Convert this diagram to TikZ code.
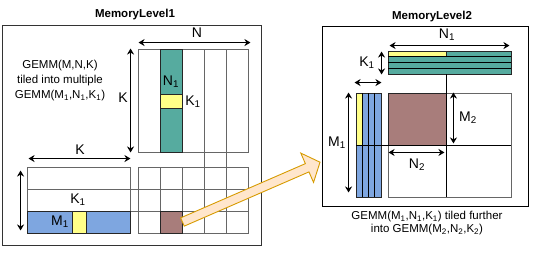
\documentclass[tikz,border=0pt]{standalone}
\usepackage{fontspec}
\setmainfont{Liberation Sans}
\usepackage{xcolor}
\usepackage{tikz}
\usetikzlibrary{arrows.meta, positioning}
\definecolor{tealfill}{HTML}{56AB9F}
\definecolor{bluefill}{HTML}{7EA6E0}
\definecolor{yellowfill}{HTML}{FFFF88}
\definecolor{brownfill}{HTML}{A87D7B}
\definecolor{arrowfill}{HTML}{FFE6CC}
\definecolor{arrowline}{HTML}{D79B00}
\tikzset{
    levelbox/.style={rectangle, draw=black!80, line width=0.9pt, inner sep=0pt},
    title/.style={font=\fontsize{11.5}{13}\selectfont\bfseries},
    grid/.style={rectangle, draw=black!60, line width=0.9pt, inner sep=0pt},
    gridline/.style={draw=black!60, line width=0.9pt},
    tealtile/.style={rectangle, draw=black!85, line width=0.9pt, fill=tealfill, inner sep=0pt},
    bluetile/.style={rectangle, draw=black!85, line width=0.9pt, fill=bluefill, inner sep=0pt},
    yellowtile/.style={rectangle, draw=black!85, line width=0.9pt, fill=yellowfill, inner sep=0pt},
    browntile/.style={rectangle, draw=black!85, line width=0.9pt, fill=brownfill, inner sep=0pt},
    dimarrow/.style={line width=0.9pt,<->,>={Stealth[length=6pt,width=7pt]}},
    dimlabel/.style={font=\fontsize{14}{16}\selectfont, inner sep=0pt},
    note/.style={font=\fontsize{11.5}{15}\selectfont, align=center, inner sep=0pt},
    bigarrow/.style={draw=arrowline, fill=arrowfill, line width=0.9pt, line join=miter}
}
\begin{document}
\begin{tikzpicture}[x=1pt, y=-1pt]
    \useasboundingbox (0,0) rectangle (533,257);

    % memory level 1
    \node (lvlone) [levelbox, minimum width=259, minimum height=220] at (131.5,135) {};
    \node (lvlonetitle) [title] at (135,15) {MemoryLevel1};
    \node (tiletext) [note] at (60,81) {GEMM(M,N,K)\\tiled into multiple\\GEMM(M\textsubscript{1},N\textsubscript{1},K\textsubscript{1})};

    \node (Bmat) [grid, minimum width=110, minimum height=103] at (193,100.5) {};
    \node (Amat) [grid, minimum width=103, minimum height=66] at (78.5,200) {};
    \node (Cmat) [grid, minimum width=110, minimum height=66] at (193,200) {};

    \draw [gridline] (27,189) -- (248,189);
    \draw [gridline] (27,211) -- (248,211);
    \draw [gridline] (204,49) -- (204,233);
    \draw [gridline] (226,49) -- (226,233);
    \draw [gridline] (160,167) -- (160,233);
    \draw [gridline] (182,167) -- (182,233);

    \node (Bcol) [tealtile, minimum width=22, minimum height=103] at (171,100.5) {};
    \node (Bblk) [yellowtile, minimum width=22, minimum height=14] at (171,101) {};
    \node (Arow) [bluetile, minimum width=103, minimum height=22] at (78.5,222) {};
    \node (Ablk) [yellowtile, minimum width=14, minimum height=22] at (79,222) {};
    \node (Cblk) [browntile, minimum width=22, minimum height=22] at (171,222) {};

    \draw [dimarrow] ([xshift=1pt,yshift=6pt]Bmat.north west) -- ([xshift=2pt,yshift=6pt]Bmat.north east);
    \draw [dimarrow] ([xshift=-7pt]Bmat.north west) -- ([xshift=-7pt]Bmat.south west);
    \draw [dimarrow] ([xshift=2pt,yshift=8pt]Amat.north west) -- ([yshift=8pt]Amat.north east);
    \draw [dimarrow] ([xshift=-6pt,yshift=-4pt]Amat.north west) -- ([xshift=-6pt,yshift=3pt]Amat.south west);

    \node (labN) [dimlabel] at (197,33) {N};
    \node (labK) [dimlabel] at (123,98) {K};
    \node (labNone) [dimlabel] at (171,82) {N\textsubscript{1}};
    \node (labKone) [dimlabel] at (193,102) {K\textsubscript{1}};
    \node (labKa) [dimlabel] at (80,150) {K};
    \node (labKb) [dimlabel] at (78,200) {K\textsubscript{1}};
    \node (labMone) [dimlabel] at (60,222) {M\textsubscript{1}};

    % memory level 2
    \node (lvltwo) [levelbox, draw=black, minimum width=206, minimum height=180] at (425,116) {};
    \node (lvltwotitle) [title] at (432,17) {MemoryLevel2};

    \node (Btile) [tealtile, minimum width=123, minimum height=23] at (449.5,62.5) {};
    \node (Btop) [yellowtile, minimum width=58, minimum height=5.75] at (417,53.9) {};
    \draw [line width=0.9pt] (388,56.75) -- (511,56.75);
    \draw [line width=0.9pt] (388,62.5) -- (511,62.5);
    \draw [line width=0.9pt] (388,68.25) -- (511,68.25);

    \node (Atile) [bluetile, minimum width=25, minimum height=104] at (368.5,145) {};
    \node (Aleft) [yellowtile, minimum width=6.25, minimum height=52] at (359.1,119) {};
    \draw [line width=0.9pt] (362.25,93) -- (362.25,197);
    \draw [line width=0.9pt] (368.5,93) -- (368.5,197);
    \draw [line width=0.9pt] (374.75,93) -- (374.75,197);

    \node (Ctile) [grid, minimum width=123, minimum height=104] at (449.5,145) {};
    \node (Cpart) [browntile, minimum width=58, minimum height=52] at (417,119) {};
    \draw [line width=0.9pt] (446,74) -- (446,197);
    \draw [line width=0.9pt] (356,145) -- (511,145);

    \draw [dimarrow] ([xshift=2pt,yshift=5pt]Btile.north west) -- ([xshift=-2pt,yshift=5pt]Btile.north east);
    \draw [dimarrow] ([xshift=-6pt,yshift=-1pt]Btile.north west) -- ([xshift=-6pt]Btile.south west);
    \draw [dimarrow] ([xshift=-1pt,yshift=10pt]Atile.north west) -- ([yshift=10pt]Atile.north east);
    \draw [dimarrow] ([xshift=-7pt]Atile.north west) -- ([xshift=-7pt,yshift=5pt]Atile.south west);
    \draw [dimarrow] ([xshift=7pt]Cpart.north east) -- ([xshift=7pt,yshift=2pt]Cpart.south east);
    \draw [dimarrow] ([xshift=1pt,yshift=-7pt]Cpart.south west) -- ([xshift=-2pt,yshift=-7pt]Cpart.south east);

    \node (labNtwo) [dimlabel] at (447,35) {N\textsubscript{1}};
    \node (labKtwo) [dimlabel] at (367,63) {K\textsubscript{1}};
    \node (labMtwo) [dimlabel] at (337,143) {M\textsubscript{1}};
    \node (labMsub) [dimlabel] at (468,118) {M\textsubscript{2}};
    \node (labNsub) [dimlabel] at (417,165) {N\textsubscript{2}};

    \node (furthertext) [note, font=\fontsize{11.5}{12.5}\selectfont] at (427,223) {GEMM(M\textsubscript{1},N\textsubscript{1},K\textsubscript{1}) tiled further\\into GEMM(M\textsubscript{2},N\textsubscript{2},K\textsubscript{2})};

    % tile moved to level 2
    \begin{scope}[shift={(Cblk.east)}, rotate=23.5]
        \draw [bigarrow] (0,-4.5) -- (136,-4.5) -- (136,-16) -- (150,0) -- (136,16) -- (136,4.5) -- (0,4.5) -- cycle;
    \end{scope}
\end{tikzpicture}
\end{document}
